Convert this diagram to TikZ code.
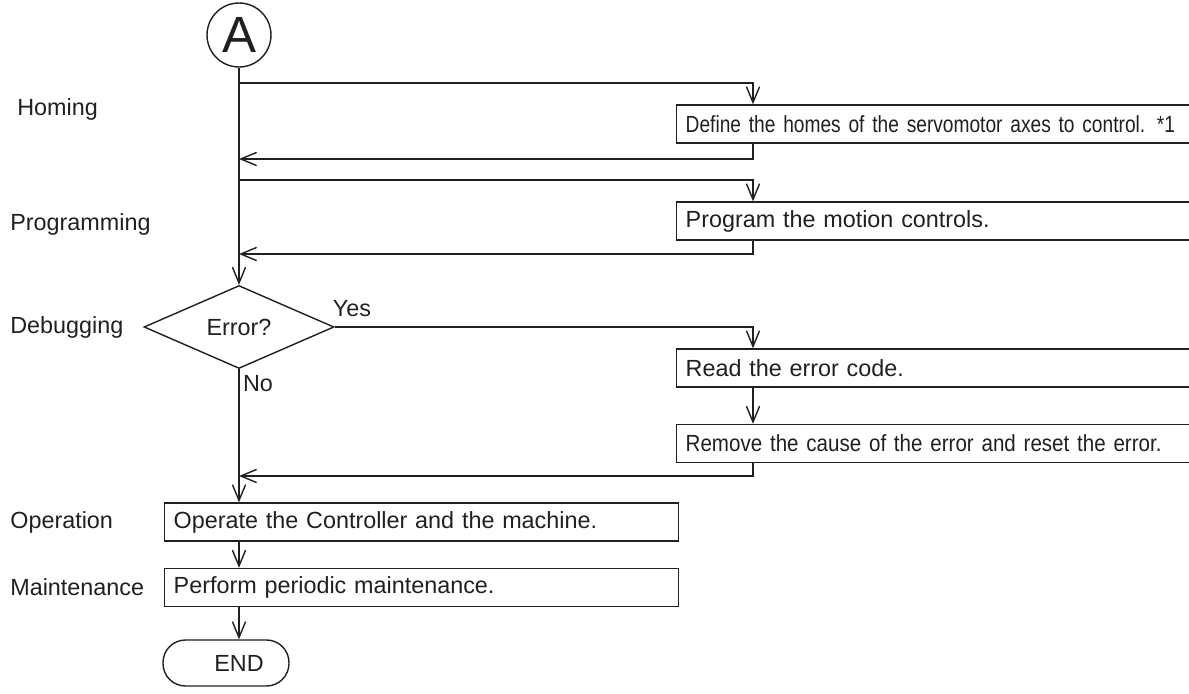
\documentclass[tikz,border=0pt]{standalone}
\usepackage{fontspec}
\setmainfont{Liberation Sans}
\newfontfamily\narrowA[FakeStretch=0.82]{Liberation Sans}
\newfontfamily\narrowB[FakeStretch=0.88]{Liberation Sans}
\usetikzlibrary{arrows.meta, positioning, shapes.geometric}
\definecolor{ink}{HTML}{231F20}

\begin{document}
\begin{tikzpicture}[x=0.02cm, y=-0.02cm, >={Straight Barb[length=9pt, width=7.5pt]},
        every node/.style={font=\fontsize{13.3}{16}\selectfont, text=ink},
        flow/.style={line width=0.8pt, draw=ink},
        stepbox/.style={draw=ink, line width=0.8pt, rectangle, anchor=west, text width=9.92cm,
            inner xsep=0.18cm, minimum height=0.76cm, align=left},
        phase/.style={anchor=west, inner sep=0pt}]
        \path[use as bounding box] (0, 0) rectangle (1189, 693);
        % start connector and steps
        \node[draw=ink, line width=0.8pt, circle, minimum size=1.28cm, inner sep=0pt,
            font=\fontsize{29}{30}\selectfont] (conn) at (239, 35) {A};
        \node[stepbox] (home) at (676, 124) {\mbox{\narrowA Define the homes of the servomotor axes to control. *1}};
        \node[stepbox] (prog) at (676, 221) {Program the motion controls.};
        \node[draw=ink, line width=0.8pt, diamond, aspect=2.3, minimum width=3.8cm, minimum height=1.66cm,
            inner sep=0pt] (err) at (239, 327) {Error?};
        \node[stepbox] (read) at (676, 368) {Read the error code.};
        \node[stepbox] (fix) at (676, 443.5) {\mbox{\narrowB Remove the cause of the error and reset the error.}};
        \node[stepbox] (oper) at (164, 522) {Operate the Controller and the machine.};
        \node[stepbox] (maint) at (164, 587.5) {Perform periodic maintenance.};
        \node[draw=ink, line width=0.8pt, rounded corners=0.45cm, minimum width=2.52cm, minimum height=0.92cm] (fin) at (226, 663) {};
        \node (fintxt) at (239, 663) {END};
        % phase labels
        \node[phase] (lhome) at (17, 109) {Homing};
        \node[phase] (lprog) at (10, 224) {Programming};
        \node[phase] (ldebug) at (10, 327) {Debugging};
        \node[phase] (loper) at (10, 522) {Operation};
        \node[phase] (lmaint) at (10, 587) {Maintenance};
        \node[inner sep=0pt] (yes) at (352, 309) {Yes};
        \node[inner sep=0pt] (no) at (258, 384) {No};
        % branch points
        \coordinate (rx) at (753, 0);
        \coordinate (homeout) at (239, 83);
        \coordinate (homein) at (239, 159);
        \coordinate (progout) at (239, 180);
        \coordinate (progin) at (239, 254);
        \coordinate (errin) at (239, 476);
        % connectors
        \draw[flow, ->] (conn.south) -- (err.north);
        \draw[flow, ->] (homeout) -| (home.north -| rx);
        \draw[flow, ->] (home.south -| rx) |- (homein);
        \draw[flow, ->] (progout) -| (prog.north -| rx);
        \draw[flow, ->] (prog.south -| rx) |- (progin);
        \draw[flow, ->] (err.east) -| (read.north -| rx);
        \draw[flow, ->] (read.south -| rx) -- (fix.north -| rx);
        \draw[flow, ->] (fix.south -| rx) |- (errin);
        \draw[flow, ->] (err.south) -- (oper.north -| err.south);
        \draw[flow, ->] (oper.south -| err.south) -- (maint.north -| err.south);
        \draw[flow, ->] (maint.south -| err.south) -- (fin.north -| err.south);
\end{tikzpicture}
\end{document}
